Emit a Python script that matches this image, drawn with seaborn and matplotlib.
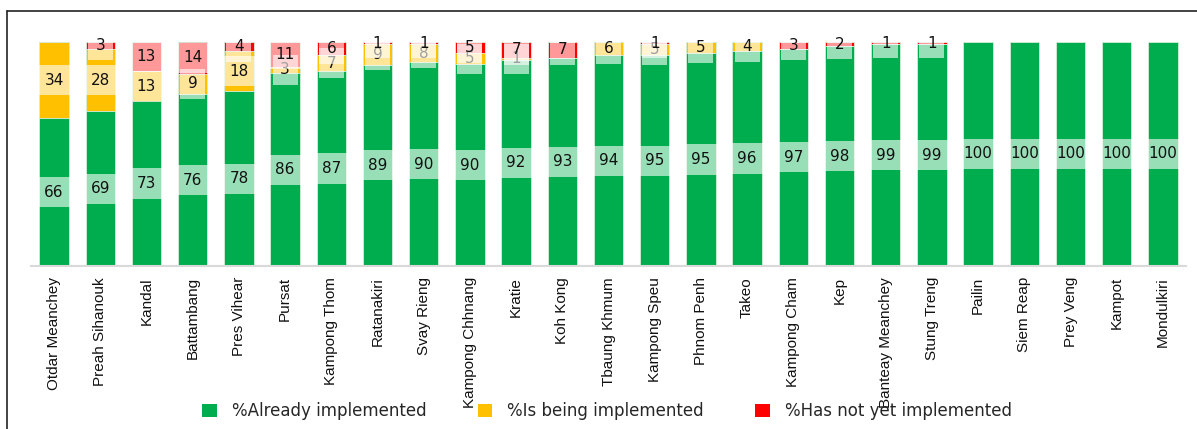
import numpy as np
import pandas as pd
import matplotlib
matplotlib.use("Agg")
import matplotlib.pyplot as plt
from matplotlib.patches import Patch
from matplotlib.lines import Line2D
import seaborn as sns

regions = ["Otdar Meanchey", "Preah Sihanouk", "Kandal", "Battambang", "Pres Vihear",
           "Pursat", "Kampong Thom", "Ratanakiri", "Svay Rieng", "Kampong Chhnang",
           "Kratie", "Koh Kong", "Tbaung Khmum", "Kampong Speu", "Phnom Penh", "Takeo",
           "Kampong Cham", "Kep", "Banteay Meanchey", "Stung Treng", "Pailin",
           "Siem Reap", "Prey Veng", "Kampot", "Mondulkiri"]
already = [66, 69, 73, 76, 78, 86, 87, 89, 90, 90, 92, 93, 94, 95, 95, 96, 97, 98, 99, 99,
           100, 100, 100, 100, 100]
being = [34, 28, 13, 9, 18, 3, 7, 9, 8, 5, 1, 0, 6, 5, 5, 4, 0, 0, 0, 0, 0, 0, 0, 0, 0]
notyet = [0, 3, 13, 14, 4, 11, 6, 1, 1, 5, 7, 7, 0, 1, 0, 0, 3, 2, 1, 1, 0, 0, 0, 0, 0]

series_names = ["%Already implemented", "%Is being implemented", "%Has not yet implemented"]
colors = ["#00AD4E", "#FFC000", "#FF0000"]

sns.set_theme(style="white")
plt.rcParams["font.family"] = ["DejaVu Sans"]

a = np.array(already, float)
b = np.array(being, float)
c = np.array(notyet, float)
tot = a + b + c
pa, pb, pc = a / tot * 100, b / tot * 100, c / tot * 100
cum1 = pa
cum2 = pa + pb
cum3 = pa + pb + pc

df = pd.DataFrame({"region": regions, "c1": cum1, "c2": cum2, "c3": cum3})

fig = plt.figure(figsize=(11.97, 4.29), dpi=100)
ax = fig.add_axes([31 / 1197, 1 - 266 / 429, (1186 - 31) / 1197, (266 - 42) / 429])

bw = 0.64
for col, colr in zip(["c3", "c2", "c1"], colors[::-1]):
    sns.barplot(data=df, x="region", y=col, color=colr, saturation=1, width=bw,
                edgecolor="#d8efe0", linewidth=0.6, ax=ax, order=regions)

bbox = dict(boxstyle="square,pad=0.5", fc="white", ec="none", alpha=0.6)
for i in range(len(regions)):
    segs = [(0, pa[i], already[i]), (cum1[i], pb[i], being[i]), (cum2[i], pc[i], notyet[i])]
    for bot, h, v in segs:
        if v > 0:
            ax.text(i, bot + h / 2, f"{v}", ha="center", va="center", fontsize=11,
                    color="#111111", bbox=bbox)

ax.set_ylim(0, 100)
ax.set_xlim(-0.5, len(regions) - 0.5)
ax.set_xlabel("")
ax.set_ylabel("")
ax.set_yticks([])
for s in ["top", "right", "left"]:
    ax.spines[s].set_visible(False)
ax.spines["bottom"].set_color("#d9d9d9")
ax.spines["bottom"].set_linewidth(1.5)
ax.tick_params(axis="x", length=0, pad=8)
ax.set_xticks(range(len(regions)))
ax.set_xticklabels(regions, rotation=90, fontsize=11,
                   family=["Liberation Sans"], color="#111111")

handles = [Patch(facecolor=col, edgecolor="none") for col in colors]
fig.legend(handles, series_names, loc="center", bbox_to_anchor=(607 / 1197, 1 - 411 / 429),
           ncol=3, frameon=False, handlelength=0.85, handleheight=0.85, handletextpad=0.9,
           columnspacing=3.1, prop={"family": ["DejaVu Sans"], "size": 12})

fig.add_artist(Line2D([7 / 1197, 1], [1 - 11 / 429] * 2, transform=fig.transFigure,
                      color="#222222", lw=1.2))
fig.add_artist(Line2D([7 / 1197] * 2, [0, 1 - 11 / 429], transform=fig.transFigure,
                      color="#222222", lw=1.2))

fig.savefig("out.png", dpi=100)
